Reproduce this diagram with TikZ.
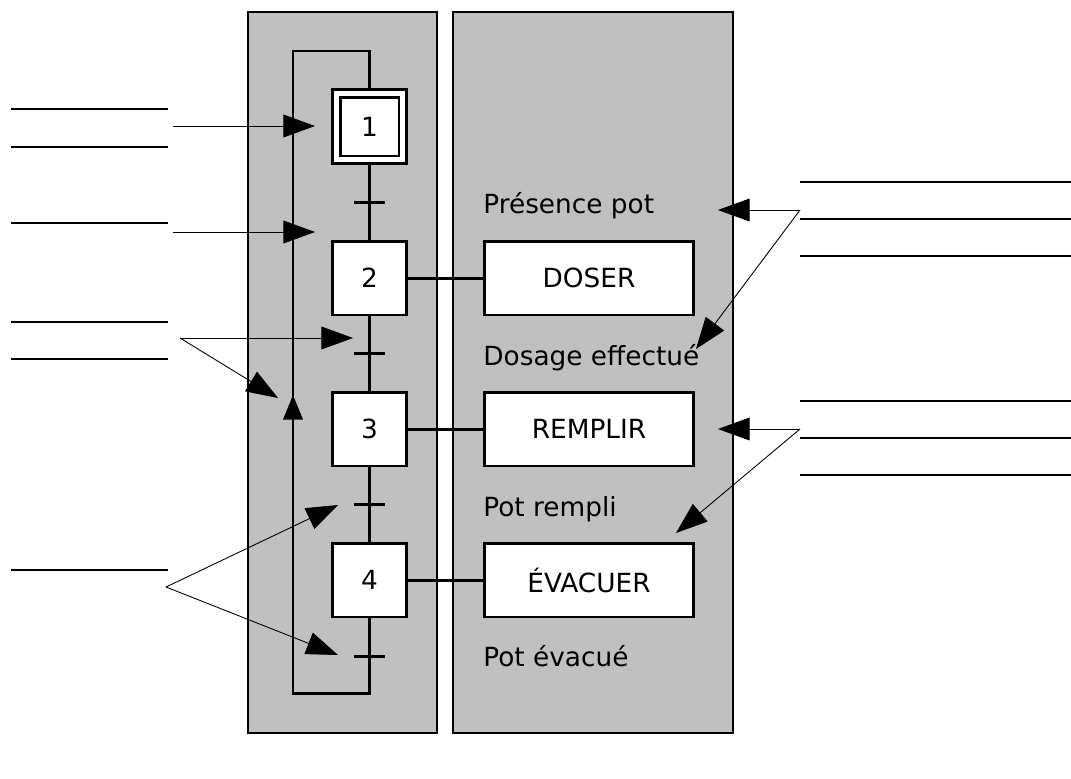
\documentclass[tikz,border=0pt]{standalone}
\usepackage{fontspec}
\setmainfont{DejaVu Sans}
\usepackage{xcolor}
\usetikzlibrary{arrows.meta}

\definecolor{gris}{HTML}{C0C0C0}
\tikzset{
  grafcet/.style={line width=1.7pt},
  etape/.style={draw, line width=1.7pt, fill=white, minimum width=1.48cm, minimum height=1.48cm, inner sep=0pt},
  action/.style={draw, line width=1.7pt, fill=white, minimum width=4.18cm, minimum height=1.48cm, inner sep=0pt},
  recept/.style={inner sep=0pt, minimum width=0.6cm, minimum height=0pt},
  blanc/.style={line width=0.7pt},
  fleche/.style={line width=0.5pt, -{Triangle[length=18pt,width=13pt]}},
  panneau/.style={fill=gris, draw=black, line width=0.8pt},
}

\begin{document}
\begin{tikzpicture}[x=0.02cm, y=-0.02cm, font=\fontsize{15}{18}\selectfont]
  \useasboundingbox (0,0) rectangle (1071,778);

  % panels
  \draw[panneau] (248,12) rectangle (437,733);
  \draw[panneau] (453,12) rectangle (733,733);

  % blank lines
  \foreach \y in {109,147,223,322,359,570}
    \draw[blanc] (11,\y) -- (168,\y);
  \foreach \y in {182,219,256,401,438,475}
    \draw[blanc] (800,\y) -- (1071,\y);

  % steps
  \node[etape] (e1) at (369.5,126.5) {};
  \node[etape, minimum width=1.18cm, minimum height=1.18cm] (e1i) at (e1) {1};
  \node[etape] (e2) at (369.5,278) {2};
  \node[etape] (e3) at (369.5,429) {3};
  \node[etape] (e4) at (369.5,580) {4};

  % transitions
  \node[recept] (t1) at (369.5,202) {};
  \node[recept] (t2) at (369.5,353) {};
  \node[recept] (t3) at (369.5,504) {};
  \node[recept] (t4) at (369.5,656) {};
  \foreach \t in {t1,t2,t3,t4}
    \draw[grafcet] (\t.west) -- (\t.east);

  % links
  \draw[grafcet] (e1) -- (e2);
  \draw[grafcet] (e2) -- (e3);
  \draw[grafcet] (e3) -- (e4);
  \coordinate (bas) at (369.5,693);
  \coordinate (haut) at (293,51);
  \draw[grafcet] (e4) -- (bas) -| (haut) -| (e1);
  \coordinate (m0) at (293,440);
  \coordinate (m1) at (293,395);
  \draw[grafcet, -{Triangle[length=14pt,width=11pt]}] (m0) -- (m1);

  % actions
  \node[action] (a2) at (589,278) {DOSER};
  \node[action] (a3) at (589,429) {REMPLIR};
  \node[action] (a4) at (589,580) {ÉVACUER};
  \draw[grafcet] (e2) -- (a2);
  \draw[grafcet] (e3) -- (a3);
  \draw[grafcet] (e4) -- (a4);

  % receptivities
  \node[anchor=base west, inner sep=0pt] (r1) at (483,213) {Présence pot};
  \node[anchor=base west, inner sep=0pt] (r2) at (483,365) {Dosage effectué};
  \node[anchor=base west, inner sep=0pt] (r3) at (483,516) {Pot rempli};
  \node[anchor=base west, inner sep=0pt] (r4) at (483,666) {Pot évacué};

  % arrows left
  \coordinate (g1) at (173,126);
  \coordinate (g2) at (173,232);
  \coordinate (g3) at (180,338);
  \coordinate (g4) at (166,587);
  \coordinate (p1) at (315,126);
  \coordinate (p2) at (315,232);
  \coordinate (p3) at (353,338);
  \coordinate (p3b) at (278,398);
  \coordinate (p4) at (338,505);
  \coordinate (p4b) at (338,655);
  \draw[fleche] (g1) -- (p1);
  \draw[fleche] (g2) -- (p2);
  \draw[fleche] (g3) -- (p3);
  \draw[fleche] (g3) -- (p3b);
  \draw[fleche] (g4) -- (p4);
  \draw[fleche] (g4) -- (p4b);

  % arrows right
  \coordinate (d1) at (800,210);
  \coordinate (d2) at (800,429);
  \coordinate (q1) at (718,210);
  \coordinate (q1b) at (696,349);
  \coordinate (q2) at (718,429);
  \coordinate (q2b) at (676,533);
  \draw[fleche] (d1) -- (q1);
  \draw[fleche] (d1) -- (q1b);
  \draw[fleche] (d2) -- (q2);
  \draw[fleche] (d2) -- (q2b);
\end{tikzpicture}
\end{document}
